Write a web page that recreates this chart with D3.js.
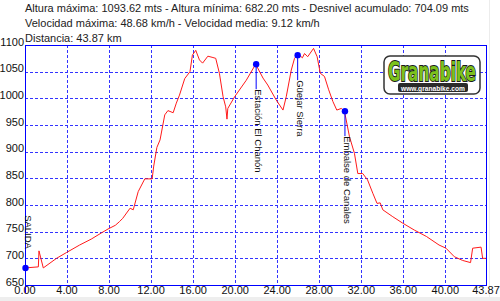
<!doctype html>
<html lang="es">
<head>
  <meta charset="utf-8">
  <script src="https://d3js.org/d3.v7.min.js"></script>
  <title>Perfil de altura</title>
  <style type="text/css">
    html, body { margin: 0; padding: 0; background: #fff; }
    svg { display: block; font-family: "Liberation Sans", Arial, sans-serif; }
  </style>
</head>
<body>
<script>
  // header lines
  var infoLines = [
    "Altura máxima: 1093.62 mts - Altura mínima: 682.20 mts - Desnivel acumulado: 704.09 mts",
    "Velocidad máxima: 48.68 km/h - Velocidad media: 9.12 km/h",
    "Distancia: 43.87 km"
  ];

  // elevation profile
  var distKm = [0, 1.27, 1.33, 1.74, 3.0, 3.96, 5.2, 6.3, 7.3, 7.9, 8.6, 9.0, 9.3, 10.0, 10.3, 10.77,
    11.4, 12.1, 12.25, 12.55, 12.85, 13.3, 13.6, 14.1, 14.4, 14.7, 15.2, 15.7, 15.93, 16.25, 16.6,
    16.9, 17.4, 17.8, 18.15, 18.5, 18.85, 19.1, 19.22, 19.3, 19.95, 21.06, 21.95, 22.65, 23.1, 23.9,
    24.55, 24.86, 25.34, 25.65, 25.9, 26.1, 26.4, 26.6, 26.9, 27.46, 27.8, 28.1, 28.5, 28.9, 29.3,
    29.67, 30.1, 30.4, 30.88, 31.35, 31.67, 32.14, 32.6, 33.1, 33.5, 33.8, 34.05, 35.0, 35.94, 37.05,
    38.2, 39.4, 40.06, 40.86, 41.65, 42.4, 42.6, 43.4, 43.55, 43.87];
  var elevM = [682, 684, 714, 682, 700, 711, 725, 736, 748, 755, 762, 769, 775, 794, 791, 825,
    849, 849, 873, 908, 922, 969, 977, 973, 991, 1006, 1037, 1050, 1081, 1090, 1072,
    1066, 1079, 1077, 1075, 1047, 1003, 984, 961, 981, 1003, 1034, 1064, 1038, 1025, 997,
    978, 1003, 1053, 1075, 1081, 1081, 1076, 1084, 1078, 1093.6, 1078, 1047, 1041, 1016, 994,
    978, 981, 976, 928, 897, 859, 859, 847, 822, 803, 804, 791, 778, 766, 753,
    741, 725, 719, 703, 696, 692, 719, 721, 700, 700];

  // waypoints
  var wpNames = ["SALIDA", "Estación El Chanón", "Güejar Sierra", "Embalse de Canales"];
  var wpKm = [0, 21.95, 25.9, 30.4];
  var wpElev = [682, 1064, 1081, 976];

  // axes
  var xTicks = [0, 4, 8, 12, 16, 20, 24, 28, 32, 36, 40, 43.87];
  var yTicks = [650, 700, 750, 800, 850, 900, 950, 1000, 1050, 1100];

  var W = 500, H = 301;
  var pLeft = 25, pRight = 486, pTop = 45, pBottom = 285;

  var x = d3.scaleLinear().domain([0, 43.87]).range([pLeft, pRight]);
  var y = d3.scaleLinear().domain([650, 1100]).range([pBottom, pTop]);

  var svg = d3.select("body").append("svg")
    .attr("width", W)
    .attr("height", H);

  // faint frame of the original window
  svg.append("rect").attr("x", 0).attr("y", 297).attr("width", W).attr("height", 4).attr("fill", "#eeeeee");
  svg.append("line").attr("x1", 489.5).attr("x2", 489.5).attr("y1", 0).attr("y2", 297)
    .attr("stroke", "#ececec");

  // header text
  svg.append("g").selectAll("text")
    .data(infoLines)
    .enter().append("text")
    .attr("x", pLeft)
    .attr("y", function(d, i) { return 12 + i * 15; })
    .style("font-size", "11px")
    .attr("fill", "#222")
    .text(function(d) { return d; });

  // grid
  var grid = svg.append("g")
    .attr("stroke", "#3333ff")
    .attr("stroke-width", 1)
    .attr("stroke-dasharray", "3,2");
  grid.selectAll(".vg")
    .data(xTicks.slice(1, -1))
    .enter().append("line")
    .attr("x1", function(d) { return Math.round(x(d)) + 0.5; })
    .attr("x2", function(d) { return Math.round(x(d)) + 0.5; })
    .attr("y1", pTop).attr("y2", pBottom);
  grid.selectAll(".hg")
    .data(yTicks.slice(1, -1))
    .enter().append("line")
    .attr("y1", function(d) { return Math.round(y(d)) + 0.5; })
    .attr("y2", function(d) { return Math.round(y(d)) + 0.5; })
    .attr("x1", pLeft).attr("x2", pRight);

  // logo
  var logo = svg.append("g").attr("transform", "translate(384,56)");
  logo.append("rect").attr("x", 0).attr("y", 0).attr("width", 96).attr("height", 38)
    .attr("rx", 6).attr("fill", "#fff").attr("stroke", "#333").attr("stroke-width", 1.5);
  logo.append("text")
    .attr("x", 48).attr("y", 25)
    .attr("text-anchor", "middle")
    .attr("textLength", 88).attr("lengthAdjust", "spacingAndGlyphs")
    .style("font-size", "27px").style("font-weight", "bold")
    .style("font-family", "'DejaVu Sans Condensed', 'Liberation Sans Narrow', sans-serif")
    .attr("fill", "#7cc11c").attr("stroke", "#1a1a1a").attr("stroke-width", 2)
    .attr("paint-order", "stroke")
    .text("Granabike");
  logo.append("rect").attr("x", 14).attr("y", 27).attr("width", 70).attr("height", 9)
    .attr("rx", 2).attr("fill", "#2a2a2a");
  logo.append("text")
    .attr("x", 49).attr("y", 34.5)
    .attr("text-anchor", "middle")
    .attr("textLength", 64).attr("lengthAdjust", "spacingAndGlyphs")
    .style("font-size", "8px").style("font-weight", "bold")
    .attr("fill", "#fff")
    .text("www.granabike.com");

  // frame
  svg.append("rect")
    .attr("x", pLeft + 0.5).attr("y", pTop + 0.5)
    .attr("width", pRight - pLeft).attr("height", pBottom - pTop)
    .attr("fill", "none").attr("stroke", "#0000ff").attr("stroke-width", 1);

  // axis labels
  svg.append("g").selectAll("text")
    .data(yTicks)
    .enter().append("text")
    .attr("x", pLeft - 1)
    .attr("y", function(d) { return y(d) + 0.5; })
    .attr("text-anchor", "end")
    .style("font-size", "11px")
    .attr("fill", "#111")
    .text(function(d) { return d; });
  svg.append("g").selectAll("text")
    .data(xTicks)
    .enter().append("text")
    .attr("x", function(d) { return x(d); })
    .attr("y", 294)
    .attr("text-anchor", "middle")
    .style("font-size", "11px")
    .attr("fill", "#111")
    .text(function(d) { return d.toFixed(2); });

  // profile
  var profile = distKm.map(function(d, i) { return [d, elevM[i]]; });
  svg.append("path")
    .datum(profile)
    .attr("fill", "none")
    .attr("stroke", "#ff1a1a")
    .attr("stroke-width", 1)
    .attr("stroke-linejoin", "round")
    .attr("d", d3.line().x(function(d) { return x(d[0]); }).y(function(d) { return y(d[1]); }));

  // waypoints: stem, dot, vertical label
  var wps = wpNames.map(function(n, i) { return { name: n, km: wpKm[i], elev: wpElev[i] }; });
  var wg = svg.append("g").selectAll("g")
    .data(wps)
    .enter().append("g");
  wg.append("line")
    .attr("x1", function(d) { return x(d.km) + 0.5; })
    .attr("x2", function(d) { return x(d.km) + 0.5; })
    .attr("y1", function(d) { return y(d.elev); })
    .attr("y2", function(d) { return y(d.elev) + 25; })
    .attr("stroke", "#0000ff");
  wg.append("circle")
    .attr("cx", function(d) { return x(d.km) + 0.5; })
    .attr("cy", function(d) { return y(d.elev); })
    .attr("r", 3.2)
    .attr("fill", "#0000ff");
  wg.append("text")
    .style("font-size", "9.5px")
    .attr("fill", "#111")
    .attr("text-anchor", function(d) { return y(d.elev) + 110 > pBottom ? "end" : "start"; })
    .attr("transform", function(d) {
      var ty = y(d.elev) + 110 > pBottom ? y(d.elev) - 19 : y(d.elev) + 25;
      return "translate(" + (x(d.km) - 0.5) + "," + ty + ") rotate(90)";
    })
    .text(function(d) { return d.name; });
</script>
</body>
</html>
